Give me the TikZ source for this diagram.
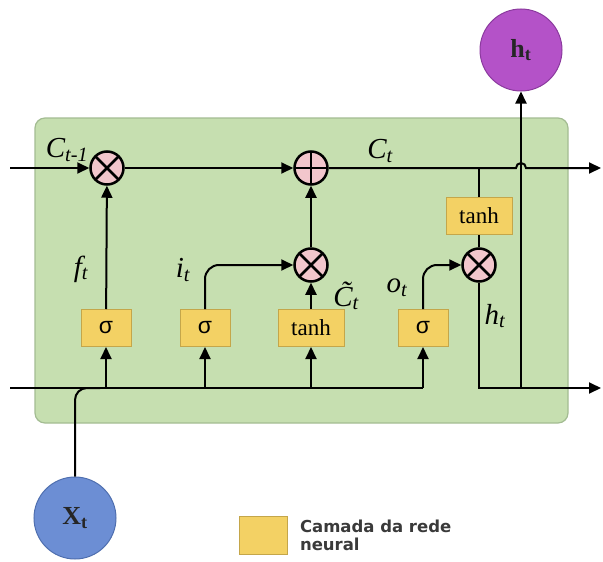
\documentclass[tikz,border=0pt]{standalone}
\usepackage{fontspec}
\setmainfont{Liberation Serif}
\newfontfamily\sigfont{Liberation Sans}
\newfontfamily\legfont{DejaVu Sans}
\usetikzlibrary{arrows.meta}
\definecolor{cellfill}{HTML}{C6DFB0}
\definecolor{cellbord}{HTML}{A3BC92}
\definecolor{opink}{HTML}{F2C6CC}
\definecolor{yfill}{HTML}{F3D164}
\definecolor{ybord}{HTML}{C4A64A}
\definecolor{pfill}{HTML}{B452C8}
\definecolor{pbord}{HTML}{8B3A9E}
\definecolor{bfill}{HTML}{6C8ED4}
\definecolor{bbord}{HTML}{4F6FAF}
\definecolor{legtext}{HTML}{3A3A3A}
\begin{document}
\begin{tikzpicture}[x=1pt,y=-1pt,
 line width=2pt,
 arr/.style={-{Triangle[length=12pt,width=11pt]}},
 opc/.style={circle, draw, line width=2.5pt, fill=opink, minimum size=33pt, inner sep=0pt},
 mulop/.style={opc, path picture={\draw[line width=2.5pt] (path picture bounding box.north west)--(path picture bounding box.south east) (path picture bounding box.north east)--(path picture bounding box.south west);}},
 addop/.style={opc, path picture={\draw[line width=2.5pt] (path picture bounding box.north)--(path picture bounding box.south) (path picture bounding box.east)--(path picture bounding box.west);}},
 layer/.style={draw=ybord, fill=yfill, line width=1pt, minimum width=50pt, minimum height=37pt, inner sep=0pt, font=\fontsize{23}{25}\selectfont},
 lbl/.style={font=\fontsize{29}{31}\selectfont\itshape, inner sep=0pt},
 ionode/.style={circle, line width=1pt, minimum size=82pt, inner sep=0pt, font=\fontsize{26}{28}\selectfont\bfseries, text=black!85},
 cell/.style={draw=cellbord, fill=cellfill, line width=1.2pt, rounded corners=10pt}
]
\useasboundingbox (0,0) rectangle (603,562);
% cell background
\node[cell, minimum width=533pt, minimum height=305pt, inner sep=0pt] (cell) at (301.5,270.5) {};

% operators
\node[mulop] (m1) at (107,168) {};
\node[addop] (p1) at (311,168) {};
\node[mulop] (m2) at (311,265) {};
\node[mulop] (m3) at (479,265) {};

% layers
\node[layer] (sf) at (106,328) {\sigfont σ};
\node[layer] (si) at (205,328) {\sigfont σ};
\node[layer, minimum width=66pt] (tc) at (311,328) {tanh};
\node[layer] (so) at (423,328) {\sigfont σ};
\node[layer, minimum width=66pt] (th) at (479,216) {tanh};

% io nodes
\node[ionode, draw=pbord, fill=pfill] (ht) at (521,50) {h\textsubscript{t}};
\node[ionode, draw=bbord, fill=bfill] (xt) at (75,518) {X\textsubscript{t}};

% coordinates
\coordinate (inC) at (10,168);
\coordinate (outC) at (601,168);
\coordinate (hopL) at (516,168);
\coordinate (inL) at (10,388);
\coordinate (jx) at (100,388);
\coordinate (jh) at (521,388);
\coordinate (outH) at (601,388);

% cell state line
\draw[arr] (inC) -- (m1);
\draw[arr] (m1) -- (p1);
\draw[arr] (p1.east) -- (hopL) arc[start angle=180,end angle=0,radius=5pt] -- (outC);

% input line
\draw (inL) -- (so.south |- inL);
\draw[rounded corners=12pt] (xt.north) |- (jx);
\draw[arr] (sf.south |- inL) -- (sf.south);
\draw[arr] (si.south |- inL) -- (si.south);
\draw[arr] (tc.south |- inL) -- (tc.south);
\draw[arr] (so.south |- inL) -- (so.south);

% gates
\draw[arr] (sf) -- (m1);
\draw[arr, rounded corners=14pt] (si.north) |- (m2.west);
\draw[arr] (tc) -- (m2);
\draw[arr] (m2) -- (p1);
\draw[arr, rounded corners=14pt] (so.north) |- (m3.west);
\draw (m3) -- (th);
\draw (th.north) -- (th.north |- p1);
\draw[arr] (m3.south) |- (outH);
\draw[arr] (jh) -- (ht.south);

% labels
\node[lbl] (lct1) at (67,150) {C\textsubscript{t-1}};
\node[lbl] (lct) at (380,151) {C\textsubscript{t}};
\node[lbl] (lft) at (81,269) {f\textsubscript{t}};
\node[lbl] (lit) at (183,270) {i\textsubscript{t}};
\node[lbl] (lctil) at (346,296) {\~{C}\textsubscript{t}};
\node[lbl] (lot) at (397,288) {o\textsubscript{t}};
\node[lbl] (lht) at (495,316) {h\textsubscript{t}};

% legend
\node[draw=ybord, fill=yfill, line width=0.8pt, minimum width=48pt, minimum height=38pt, inner sep=0pt] (leg) at (263,535) {};
\node[anchor=west, align=left, font=\legfont\bfseries\fontsize{16.5}{18}\selectfont, text=legtext, inner sep=0pt] (legt) at (299,535) {Camada da rede\\neural};
\end{tikzpicture}
\end{document}
